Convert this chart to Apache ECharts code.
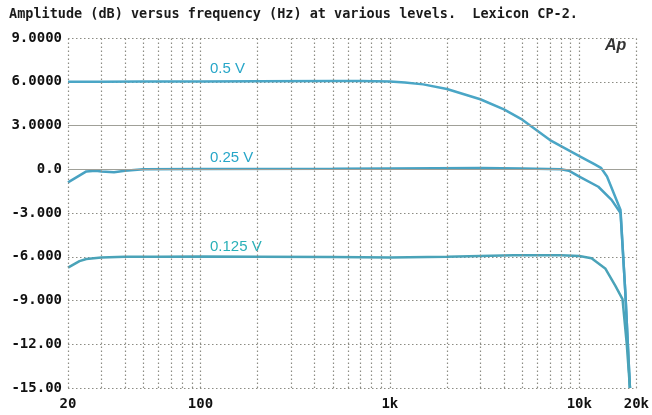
<!DOCTYPE html>
<html>
<head>
<meta charset="utf-8">
<script src="https://cdn.jsdelivr.net/npm/echarts@6/dist/echarts.min.js"></script>
<style>
  html, body { margin: 0; padding: 0; background: #fff; }
  #chart { width: 652px; height: 415px; }
</style>
</head>
<body>
<div id="chart"></div>
<script>
// tick labels
const yTickLabels = ['-15.00', '-12.00', '-9.000', '-6.000', '-3.000', '0.0', '3.0000', '6.0000', '9.0000'];
const xTickValues = [20, 100, 1000, 10000, 20000];
const xTickLabels = ['20', '100', '1k', '10k', '20k'];
const gridFreqs = [20, 30, 40, 50, 60, 70, 80, 90, 100, 200, 300, 400, 500, 600, 700, 800, 900,
  1000, 2000, 3000, 4000, 5000, 6000, 7000, 8000, 9000, 10000, 20000];

// 0.5 V
const freq05 = [20, 30, 50, 100, 200, 500, 700, 1000, 1200, 1500, 2000, 3000, 4000, 5000, 7000, 10000, 12000, 13000, 14000, 16500, 17500, 18500];
const db05 = [6.0, 6.0, 6.02, 6.02, 6.03, 6.05, 6.05, 6.02, 5.95, 5.82, 5.5, 4.8, 4.1, 3.4, 2.0, 0.9, 0.35, 0.1, -0.5, -2.8, -8.5, -15];

// 0.25 V
const freq025 = [20, 25, 28, 30, 35, 40, 50, 100, 500, 1000, 3000, 5000, 8000, 8800, 10000, 12600, 14800, 16500, 17500, 18500];
const db025 = [-0.9, -0.15, -0.1, -0.15, -0.2, -0.1, 0, 0.02, 0.03, 0.05, 0.08, 0.05, 0, -0.1, -0.5, -1.2, -2.1, -3.0, -8.5, -15];

// 0.125 V
const freq0125 = [20, 23, 25, 30, 40, 60, 100, 200, 500, 1000, 2000, 4500, 6000, 8000, 10000, 11600, 13700, 15500, 16900, 17800, 18500];
const db0125 = [-6.75, -6.3, -6.15, -6.05, -6.0, -6.0, -5.98, -6.0, -6.02, -6.05, -6.0, -5.9, -5.9, -5.9, -5.95, -6.1, -6.8, -8.0, -8.9, -12, -15];

const pairs = (f, d) => f.map((x, i) => [x, d[i]]);

const chart = echarts.init(document.getElementById('chart'), null, {renderer: 'canvas'});

const curveStyle = (c) => ({
  type: 'line',
  showSymbol: false,
  symbol: 'none',
  lineStyle: {color: c, width: 2.5},
  animation: false,
  silent: true
});

chart.setOption({
  backgroundColor: '#ffffff',
  animation: false,
  grid: {left: 68, right: 14, top: 38, bottom: 27},
  xAxis: {
    type: 'log',
    logBase: 10,
    min: 20,
    max: 20000,
    axisLine: {show: false},
    axisTick: {show: false},
    splitLine: {show: false},
    axisLabel: {
      interval: 0,
      hideOverlap: false,
      margin: 9,
      color: '#111',
      fontFamily: 'DejaVu Sans Mono',
      fontWeight: 'bold',
      fontSize: 14,
      formatter: (v) => {
        const i = xTickValues.indexOf(Math.round(v));
        return i >= 0 ? xTickLabels[i] : '';
      }
    }
  },
  yAxis: {
    type: 'value',
    min: -15,
    max: 9,
    interval: 3,
    axisLine: {show: false},
    axisTick: {show: false},
    splitLine: {show: true, lineStyle: {color: '#8c8c84', width: 1.2, type: [1.5, 2.5]}},
    axisLabel: {
      margin: 6,
      color: '#111',
      fontFamily: 'DejaVu Sans Mono',
      fontWeight: 'bold',
      fontSize: 14,
      formatter: (v) => yTickLabels[Math.round((v + 15) / 3)]
    }
  },
  graphic: [
    {
      type: 'text', left: 9, top: 7,
      style: {
        text: 'Amplitude (dB) versus frequency (Hz) at various levels.  Lexicon CP-2.',
        fill: '#1a1a1a', font: 'bold 13.5px "DejaVu Sans Mono"'
      }
    },
    {
      type: 'text', left: 605, top: 38,
      style: {text: 'Ap', fill: '#333', font: 'italic bold 16px "Liberation Sans"'}
    },
    {
      type: 'text', left: 210, top: 61,
      style: {text: '0.5 V', fill: '#27a6c8', font: '15px "Liberation Sans"'}
    },
    {
      type: 'text', left: 210, top: 150,
      style: {text: '0.25 V', fill: '#27a6c8', font: '15px "Liberation Sans"'}
    },
    {
      type: 'text', left: 210, top: 239,
      style: {text: '0.125 V', fill: '#2ab0b8', font: '15px "Liberation Sans"'}
    }
  ],
  series: [
    {
      type: 'line',
      data: [],
      silent: true,
      markLine: {
        silent: true,
        symbol: ['none', 'none'],
        label: {show: false},
        animation: false,
        data: gridFreqs.map((f) => ({xAxis: f, lineStyle: {color: '#8c8c84', width: 1.2, type: [1.5, 2.5]}}))
          .concat([3, 0].map((v) => ({yAxis: v, lineStyle: {color: '#a0a098', width: 1.2, type: 'solid'}})))
      }
    },
    Object.assign(curveStyle('#4aa6c6'), {name: '0.5 V', data: pairs(freq05, db05)}),
    Object.assign(curveStyle('#48a2c2'), {name: '0.25 V', data: pairs(freq025, db025)}),
    Object.assign(curveStyle('#4aa3b8'), {name: '0.125 V', data: pairs(freq0125, db0125)})
  ]
});
</script>
</body>
</html>
